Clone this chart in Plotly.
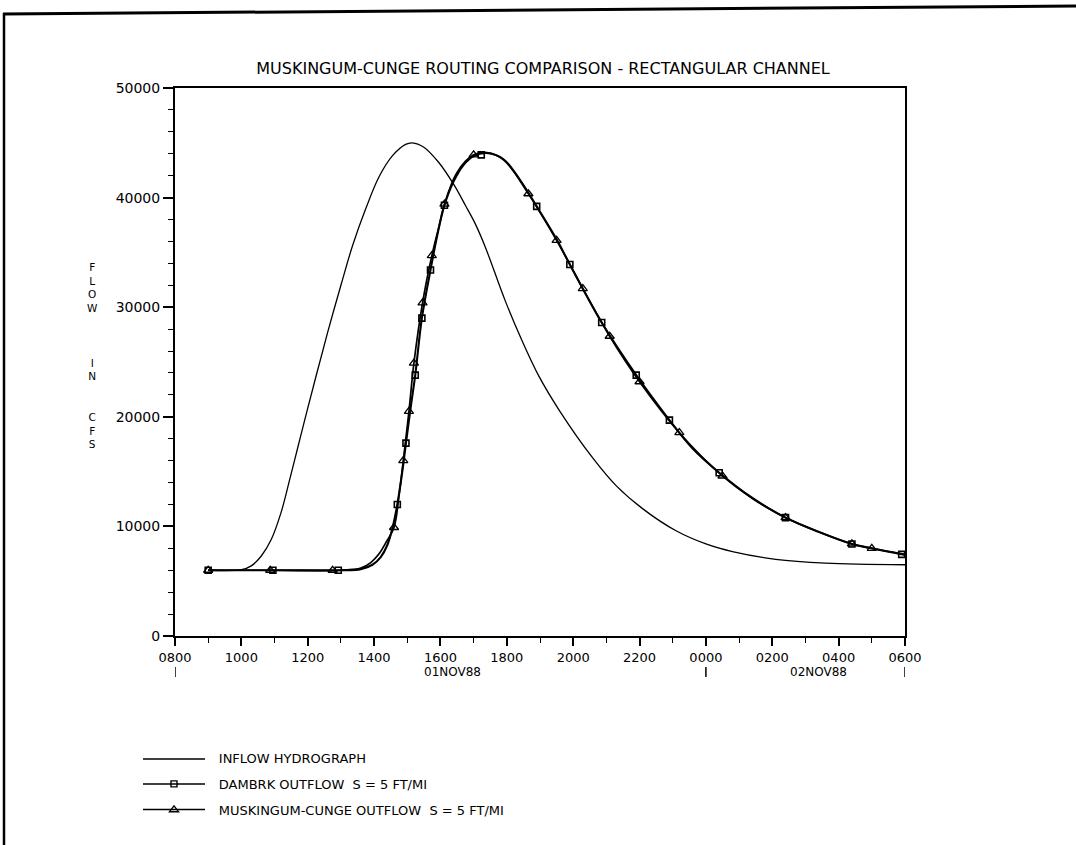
import plotly.graph_objects as go

# ---------------- data (time in hours after 0800 01NOV88, flow in cfs) ----------------
inflow_t = [1, 2, 2.3, 2.6, 2.9, 3.2, 3.45, 3.7, 3.95, 4.25, 4.6, 5.0, 5.35, 5.75, 6.15, 6.55,
            6.95, 7.15, 7.5, 7.95, 8.4, 8.75, 9.05, 9.35, 9.95, 10.45, 10.95, 11.6, 12.6,
            13.3, 14.1, 15.1, 16.0, 16.8, 18.1, 19.6, 22]
inflow_q = [6000, 6050, 6400, 7300, 8800, 11300, 14200, 17200, 20200, 23700, 27700, 32000, 35600,
            39000, 41900, 43800, 44850, 45000, 44600, 43200, 41200, 39300, 37600, 35500,
            30600, 27000, 23800, 20500, 16200, 13700, 11600, 9600, 8400, 7700, 7000, 6650, 6500]

dambrk_t = [1, 3, 5, 5.6, 5.95, 6.2, 6.4, 6.55, 6.7, 6.85, 6.96, 7.1, 7.24, 7.44, 7.7, 7.9,
            8.12, 8.4, 8.7, 9.0, 9.45, 9.9, 10.4, 10.9, 11.5, 11.9, 12.86, 13.9, 14.9, 15.6,
            16.4, 17.4, 18.4, 19.4, 20.4, 21.0, 22]
dambrk_q = [6000, 6000, 6000, 6100, 6500, 7200, 8300, 9800, 12000, 15000, 17600, 20800, 23800,
            29000, 33400, 36500, 39300, 41500, 43000, 43800, 44050, 43500, 41600, 39200, 36200,
            33900, 28600, 23800, 19700, 17100, 14900, 12600, 10800, 9500, 8400, 8000, 7400]

mc_t = [1, 3, 5, 5.6, 5.9, 6.15, 6.35, 6.6, 6.75, 6.88, 7.05, 7.2, 7.46, 7.74, 7.95, 8.12,
        8.5, 9.0, 9.4, 9.9, 10.65, 11.5, 12.29, 13.1, 14.0, 15.2, 16.5, 17.4, 18.4, 19.4,
        20.4, 21.0, 22]
mc_q = [6000, 6000, 6000, 6200, 6700, 7500, 8500, 9900, 12800, 16000, 20500, 24900, 30400,
        34700, 37300, 39400, 42300, 43900, 44100, 43450, 40350, 36100, 31700, 27350, 23200,
        18550, 14600, 12550, 10800, 9500, 8400, 8000, 7450]

dambrk_mark_t = [1, 2.95, 4.92, 6.7, 6.96, 7.24, 7.44, 7.7, 8.12, 9.23, 10.9, 11.9, 12.86,
                 13.9, 14.9, 16.4, 18.4, 20.4, 21.9]
dambrk_mark_q = [6000, 6000, 6000, 12000, 17600, 23800, 29000, 33400, 39300, 43900, 39200,
                 33900, 28600, 23800, 19700, 14900, 10800, 8400, 7450]

mc_mark_t = [1, 2.87, 4.75, 6.6, 6.88, 7.05, 7.2, 7.46, 7.74, 8.12, 9.0, 10.65, 11.5, 12.29,
             13.1, 14.0, 15.2, 16.5, 18.4, 20.4, 21.0]
mc_mark_q = [6000, 6000, 6000, 9900, 16000, 20500, 24900, 30400, 34700, 39400, 43900, 40350,
             36100, 31700, 27350, 23200, 18550, 14600, 10800, 8400, 8000]

x_tickvals = [0, 2, 4, 6, 8, 10, 12, 14, 16, 18, 20, 22]
x_ticktext = ["0800", "1000", "1200", "1400", "1600", "1800", "2000", "2200",
              "0000", "0200", "0400", "0600"]
y_tickvals = [0, 10000, 20000, 30000, 40000, 50000]
y_ticktext = ["0", "10000", "20000", "30000", "40000", "50000"]

date_labels = ["01NOV88", "02NOV88"]
date_label_t = [8.35, 19.4]
day_mark_t = [0, 16, 22]

title_text = "MUSKINGUM-CUNGE ROUTING COMPARISON - RECTANGULAR CHANNEL"
legend_names = ["INFLOW HYDROGRAPH", "DAMBRK OUTFLOW  S = 5 FT/MI",
                "MUSKINGUM-CUNGE OUTFLOW  S = 5 FT/MI"]
ylabel_text = "F<br>L<br>O<br>W<br><br><br><br>I<br>N<br><br><br>C<br>F<br>S"

# ---------------- figure ----------------
FONT = "DejaVu Sans"
W, H = 1076, 845
L, R, T, B = 175, 171, 88, 209
pw, ph = W - L - R, H - T - B


def px_x(p):
    return (p - L) / pw


def px_y(p):
    return (H - B - p) / ph


fig = go.Figure()

fig.add_trace(go.Scatter(x=inflow_t, y=inflow_q, mode="lines", line=dict(color="black", width=1.3),
                         line_shape="spline", showlegend=False, hoverinfo="skip"))
fig.add_trace(go.Scatter(x=dambrk_t, y=dambrk_q, mode="lines", line=dict(color="black", width=2.1),
                         line_shape="spline", showlegend=False, hoverinfo="skip"))
fig.add_trace(go.Scatter(x=mc_t, y=mc_q, mode="lines", line=dict(color="black", width=1.7),
                         line_shape="spline", showlegend=False, hoverinfo="skip"))
fig.add_trace(go.Scatter(x=dambrk_mark_t, y=dambrk_mark_q, mode="markers",
                         marker=dict(symbol="square-open", size=6, color="black", line=dict(width=1.6)),
                         showlegend=False))
fig.add_trace(go.Scatter(x=mc_mark_t, y=mc_mark_q, mode="markers",
                         marker=dict(symbol="triangle-up-open", size=8, color="black", line=dict(width=1.3)),
                         showlegend=False))

# legend entries (key lines drawn as shapes below, legend shows the symbols)
pad = "\u00a0" * 6
fig.add_trace(go.Scatter(x=[None], y=[None], mode="markers", name=pad + legend_names[0],
                         marker=dict(size=1, color="rgba(0,0,0,0)"), legendgroup="a"))
fig.add_trace(go.Scatter(x=[None], y=[None], mode="markers", name=pad + legend_names[1],
                         legendgroup="b",
                         marker=dict(symbol="square-open", size=6, color="black", line=dict(width=1.4))))
fig.add_trace(go.Scatter(x=[None], y=[None], mode="markers", name=pad + legend_names[2],
                         legendgroup="c",
                         marker=dict(symbol="triangle-up-open", size=8, color="black", line=dict(width=1.3))))

annotations = []
for t, txt in zip(date_label_t, date_labels):
    annotations.append(dict(x=t, y=px_y(672), xref="x", yref="paper", text=txt, showarrow=False,
                            font=dict(family=FONT, size=12, color="black"),
                            xanchor="center", yanchor="middle"))
annotations.append(dict(x=px_x(92), y=px_y(355), xref="paper",
                        yref="paper", text=ylabel_text, showarrow=False,
                        font=dict(family=FONT, size=10.5, color="black"),
                        xanchor="center", yanchor="middle", align="center"))

shapes = [
    dict(type="line", xref="paper", yref="paper", x0=px_x(3), y0=px_y(14), x1=px_x(1076), y1=px_y(6),
         line=dict(color="black", width=3)),
    dict(type="line", xref="paper", yref="paper", x0=px_x(4), y0=px_y(13), x1=px_x(4), y1=px_y(845),
         line=dict(color="black", width=2.5)),
]
for t in day_mark_t:
    shapes.append(dict(type="line", xref="x", yref="paper", x0=t, x1=t, y0=px_y(667), y1=px_y(677),
                       line=dict(color="black", width=1.5)))
# legend key lines
for ry in [759, 784, 809.5]:
    shapes.append(dict(type="line", xref="paper", yref="paper", x0=px_x(143), x1=px_x(205),
                       y0=px_y(ry), y1=px_y(ry), line=dict(color="black", width=1.3)))

fig.update_layout(
    width=W, height=H,
    margin=dict(l=L, r=R, t=T, b=B, autoexpand=False),
    paper_bgcolor="white", plot_bgcolor="white",
    title=dict(text=title_text, x=543 / W, xanchor="center", y=1 - 68 / H, yanchor="middle",
               font=dict(family=FONT, size=16, color="black")),
    font=dict(family=FONT, color="black"),
    xaxis=dict(range=[0, 22], tickvals=x_tickvals, ticktext=x_ticktext, ticks="outside", ticklen=8,
               tickwidth=1.5, tickcolor="black", showline=True, linecolor="black", linewidth=2,
               mirror=True, showgrid=False, zeroline=False,
               tickfont=dict(family=FONT, size=13, color="black"),
               minor=dict(dtick=1, ticks="outside", ticklen=5, tickcolor="black", tickwidth=1.2)),
    yaxis=dict(range=[0, 50000], tickvals=y_tickvals, ticktext=y_ticktext, ticks="outside", ticklen=10,
               tickwidth=1.5, tickcolor="black", showline=True, linecolor="black", linewidth=2,
               mirror=True, showgrid=False, zeroline=False,
               tickfont=dict(family=FONT, size=14, color="black"),
               minor=dict(dtick=2000, ticks="outside", ticklen=5, tickcolor="black", tickwidth=1.2)),
    legend=dict(x=154 / W, y=1 - 743 / H, xref="container", yref="container", xanchor="left",
                yanchor="top", traceorder="grouped", tracegroupgap=6, bgcolor="rgba(0,0,0,0)",
                font=dict(family=FONT, size=13, color="black")),
    annotations=annotations,
    shapes=shapes,
    showlegend=True,
)

fig.write_html("out.html", config={"displayModeBar": False},
               post_script="document.body.style.margin='0px';document.body.style.overflow='hidden';")
